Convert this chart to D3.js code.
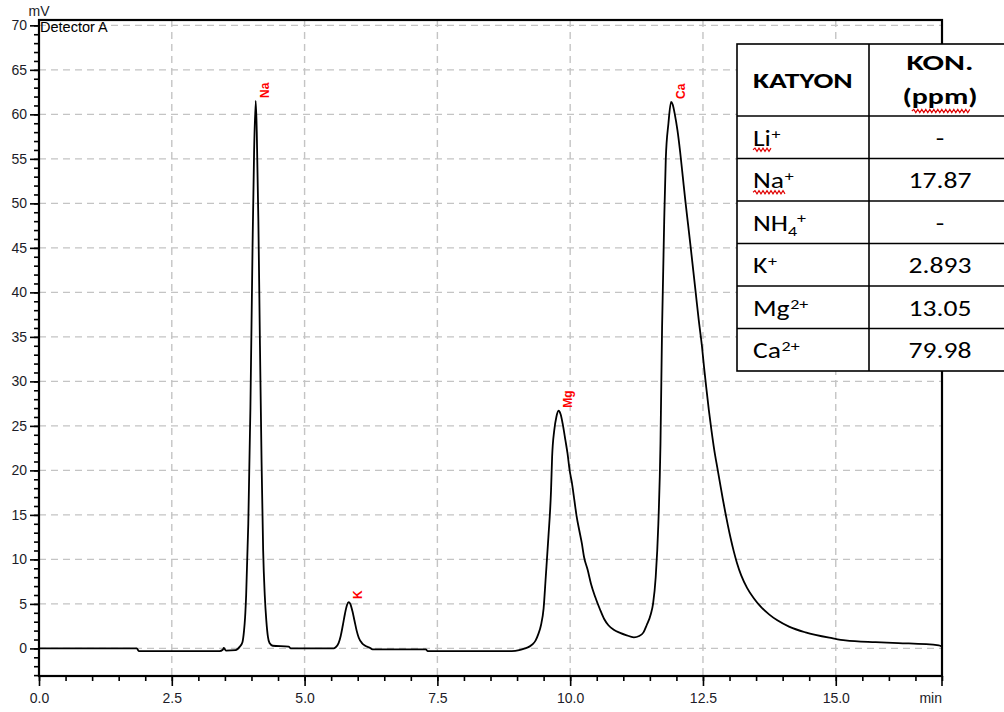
<!DOCTYPE html>
<html><head><meta charset="utf-8">
<script src="https://cdn.jsdelivr.net/npm/d3@7"></script>
<style>
html,body{margin:0;padding:0;background:#fff;overflow:hidden}
svg{display:block}
</style></head><body>
<svg id="c" width="1004" height="712"></svg>
<script>
// ---- data ----
const times = [0.00,1.84,1.88,3.40,3.46,3.48,3.52,3.70,3.78,3.83,3.86,3.88,3.90,3.94,3.98,4.02,4.05,4.08,4.10,4.13,4.16,4.19,4.22,4.25,4.28,4.31,4.34,4.40,4.70,4.74,
  5.55,5.58,5.64,5.68,5.72,5.76,5.80,5.83,5.86,5.90,5.94,5.98,6.02,6.08,6.14,6.22,6.28,7.28,7.32,8.90,9.04,9.15,9.23,9.30,9.35,9.40,9.45,9.50,9.54,9.59,9.64,9.66,9.70,9.74,9.78,
  9.82,9.86,9.91,9.95,9.99,10.03,10.08,10.12,10.17,10.22,10.26,10.33,10.39,10.47,10.56,10.64,10.72,10.82,10.94,11.05,11.20,11.30,11.38,11.44,11.52,11.56,11.61,11.66,11.70,11.73,11.77,11.80,11.85,11.90,
  11.93,11.97,12.02,12.07,12.12,12.17,12.22,12.27,12.32,12.37,12.42,12.48,12.52,12.56,12.61,12.66,12.71,12.77,12.82,12.87,12.92,12.97,13.02,13.08,13.14,13.22,13.33,13.46,13.60,13.75,13.90,
  14.12,14.43,14.93,15.18,15.75,16.18,16.94,17.00];
const signal = [0.0,0.0,-0.3,-0.3,-0.15,0.05,-0.25,-0.2,0.2,0.7,2.0,3.5,6,14,27,45,56,61.5,58,48,34,21,11,6,3.1,1.3,0.6,0.3,0.2,0.0,
  0.0,0.1,0.6,1.4,2.6,3.9,4.9,5.2,5.0,4.2,3.1,2.0,1.2,0.6,0.3,0.1,-0.1,-0.1,-0.3,-0.3,-0.2,0.0,0.2,0.5,0.9,1.6,2.6,4.5,8,12.5,17.8,21.5,24.5,26,26.7,
  26.3,25.2,23.4,21.9,20.0,18.7,16.6,14.9,13.3,11.8,10.3,8.8,7.3,5.8,4.4,3.3,2.6,2.1,1.75,1.5,1.25,1.4,1.8,2.6,3.9,5.0,8,14,23,36,48,55,59,61.4,
  61.1,60.0,58.2,55.8,53.0,50.2,47.6,45.0,42.3,39.6,36.9,34.0,31.6,29.4,26.8,24.5,22.4,20.3,18.6,16.9,15.3,13.8,12.4,10.9,9.6,8.2,6.8,5.6,4.6,3.8,3.15,
  2.45,1.8,1.15,0.9,0.7,0.6,0.35,0.2];

const peakNames = ["Na","K","Mg","Ca"];
const peakTimes = [4.08,5.83,9.78,11.90];
const peakHeights = [61.5,5.2,26.7,61.4];

const xMajorTicks = [0,2.5,5,7.5,10,12.5,15];
const xTickLabels = ["0.0","2.5","5.0","7.5","10.0","12.5","15.0"];
const xMinorTicks = d3.range(0,17.01,0.5);
const yMajorTicks = [0,5,10,15,20,25,30,35,40,45,50,55,60,65,70];
const yMinorTicks = d3.range(-3,71,1);

const tableHeader1 = "KATYON";
const tableHeader2 = ["KON.","(ppm)"];
const ionBase = ["Li","Na","NH","K","Mg","Ca"];
const ionSub  = ["","","4","","",""];
const ionSup  = ["+","+","+","+","2+","2+"];
const ionConc = ["-","17.87","-","2.893","13.05","79.98"];
const spellFlag = [true,true,false,false,false,false];

// ---- drawing ----
const svg = d3.select("#c");
const x = d3.scaleLinear().domain([0,17]).range([39,942]);
const y = d3.scaleLinear().domain([-3.1,70.6]).range([676,20]);
const axisFont = "'Liberation Sans', Arial, sans-serif";
const txtCol = "#1c1c28";
const axisSize = 14;

// grid
const grid = svg.append("g").attr("stroke","#c4c4c4").attr("stroke-width",1.4).attr("stroke-dasharray","7,5");
grid.selectAll("line.v").data(xMajorTicks.filter(d=>d>0)).join("line")
  .attr("x1",d=>x(d)).attr("x2",d=>x(d)).attr("y1",y.range()[1]).attr("y2",y.range()[0]);
grid.selectAll("line.h").data(yMajorTicks).join("line")
  .attr("y1",d=>y(d)).attr("y2",d=>y(d)).attr("x1",x.range()[0]).attr("x2",x.range()[1]);

// axes
const yMinor = svg.append("g").attr("transform",`translate(${x(0)},0)`)
  .call(d3.axisLeft(y).tickValues(yMinorTicks).tickSize(5).tickFormat(""));
const yMajor = svg.append("g").attr("transform",`translate(${x(0)},0)`)
  .call(d3.axisLeft(y).tickValues(yMajorTicks).tickSize(9).tickPadding(3).tickFormat(d3.format("d")));
const xMinor = svg.append("g").attr("transform",`translate(0,${y(-3.1)})`)
  .call(d3.axisBottom(x).tickValues(xMinorTicks).tickSize(5).tickFormat(""));
const xMajor = svg.append("g").attr("transform",`translate(0,${y(-3.1)})`)
  .call(d3.axisBottom(x).tickValues(xMajorTicks).tickSize(10).tickPadding(7).tickFormat((d,i)=>xTickLabels[i]));
[yMinor,yMajor,xMinor,xMajor].forEach(g=>{
  g.select(".domain").remove();
  g.selectAll(".tick line").attr("stroke","#000").attr("stroke-width",1.6);
  g.selectAll(".tick text").attr("font-family",axisFont).attr("font-size",axisSize).attr("fill",txtCol);
});
svg.append("line").attr("x1",x(17)).attr("x2",x(17)).attr("y1",y(-3.1)).attr("y2",y(-3.1)+10).attr("stroke","#000").attr("stroke-width",1.6);

// frame
svg.append("rect").attr("x",x(0)).attr("y",y(70.6)).attr("width",x(17)-x(0)).attr("height",y(-3.1)-y(70.6))
  .attr("fill","none").attr("stroke","#000").attr("stroke-width",2.2);

// units
svg.append("text").attr("x",x(0)).attr("y",16).attr("text-anchor","middle").attr("font-family",axisFont).attr("font-size",axisSize).attr("fill",txtCol).text("mV");
svg.append("text").attr("x",x(17)).attr("y",703).attr("text-anchor","end").attr("font-family",axisFont).attr("font-size",axisSize).attr("fill",txtCol).text("min");
svg.append("text").attr("x",x(0)+1).attr("y",32).attr("font-family",axisFont).attr("font-size",14.5).attr("fill","#000").text("Detector A");

// chromatogram
const pts = times.map((t,i)=>[t,signal[i]]);
svg.append("path").datum(pts)
  .attr("d",d3.line().x(d=>x(d[0])).y(d=>y(d[1])).curve(d3.curveMonotoneX))
  .attr("fill","none").attr("stroke","#000").attr("stroke-width",1.8).attr("stroke-linejoin","round");

// peak labels
svg.selectAll("text.peak").data(peakNames).join("text")
  .attr("class","peak")
  .attr("transform",(d,i)=>`translate(${x(peakTimes[i])+13.5},${y(peakHeights[i])-3}) rotate(-90)`)
  .attr("font-family",axisFont).attr("font-size",12).attr("font-weight","bold").attr("fill","#ff0000")
  .text(d=>d);

// ---- table ----
const tFont = "Carlito, Lato, 'Open Sans', sans-serif";
const tL = 737, tM = 869, tR = 1010, tTop = 44, hBot = 116, rowH = 42.5;
const tb = svg.append("g");
const rowEdges = [tTop, hBot].concat(ionBase.map((d,i)=>hBot+rowH*(i+1)));
tb.append("rect").attr("x",tL).attr("y",tTop).attr("width",tR-tL).attr("height",rowEdges[rowEdges.length-1]-tTop)
  .attr("fill","#fff").attr("stroke","#000").attr("stroke-width",1.6);
tb.selectAll("line.r").data(rowEdges.slice(1,-1)).join("line")
  .attr("x1",tL).attr("x2",tR).attr("y1",d=>d).attr("y2",d=>d).attr("stroke","#000").attr("stroke-width",1.6);
tb.append("line").attr("x1",tM).attr("x2",tM).attr("y1",tTop).attr("y2",rowEdges[rowEdges.length-1]).attr("stroke","#000").attr("stroke-width",1.6);

function tText(px, py, sx, anchor, bold){
  const t = tb.append("text").attr("transform",`translate(${px},${py}) scale(${sx},1)`)
    .attr("text-anchor",anchor).attr("font-family",tFont).attr("font-size",23).attr("fill","#000");
  if(bold) t.attr("font-weight","bold");
  t.node().__tx = [px,py,sx];
  return t;
}
function squiggle(x0,x1,yy){
  let d = `M${x0},${yy}`; let up = true;
  for(let xx=x0; xx<x1; xx+=2){ d += `L${xx+2},${yy+(up?-1.6:1.6)}`; up=!up; }
  tb.append("path").attr("d",d).attr("fill","none").attr("stroke","#e00000").attr("stroke-width",1.1);
}
function charSpan(t, i0, i1){
  const n = t.node(), [px,py,sx] = n.__tx;
  return [px + sx*n.getStartPositionOfChar(i0).x, px + sx*n.getEndPositionOfChar(i1).x];
}

const c1 = 753, c2 = 940;
tText(c1, 88, 1.28, "start", true).text(tableHeader1);
tText(c2, 70, 1.38, "middle", true).text(tableHeader2[0]);
const ppm = tText(c2, 104, 1.3, "middle", true).text(tableHeader2[1]);
{ const [a,b] = charSpan(ppm,1,3); squiggle(a,b,111); }

ionBase.forEach((b,i)=>{
  const cy = hBot + rowH*i + rowH/2;
  const t = tText(c1, cy+8.5, 1.2, "start", false);
  t.append("tspan").text(b);
  if(ionSub[i]) t.append("tspan").attr("font-size",15).attr("dy",5).text(ionSub[i]);
  t.append("tspan").attr("font-size",15).attr("dy",ionSub[i]? -13 : -7).attr("dx",ionSub[i]?0:0.5).text(ionSup[i]);
  if(spellFlag[i]){
    const [a,bb] = charSpan(t,0,b.length-1);
    squiggle(a, bb, cy+12.5);
  }
  tText(c2, cy+8.5, 1.2, "middle", false).text(ionConc[i]);
});
</script>
</body></html>
